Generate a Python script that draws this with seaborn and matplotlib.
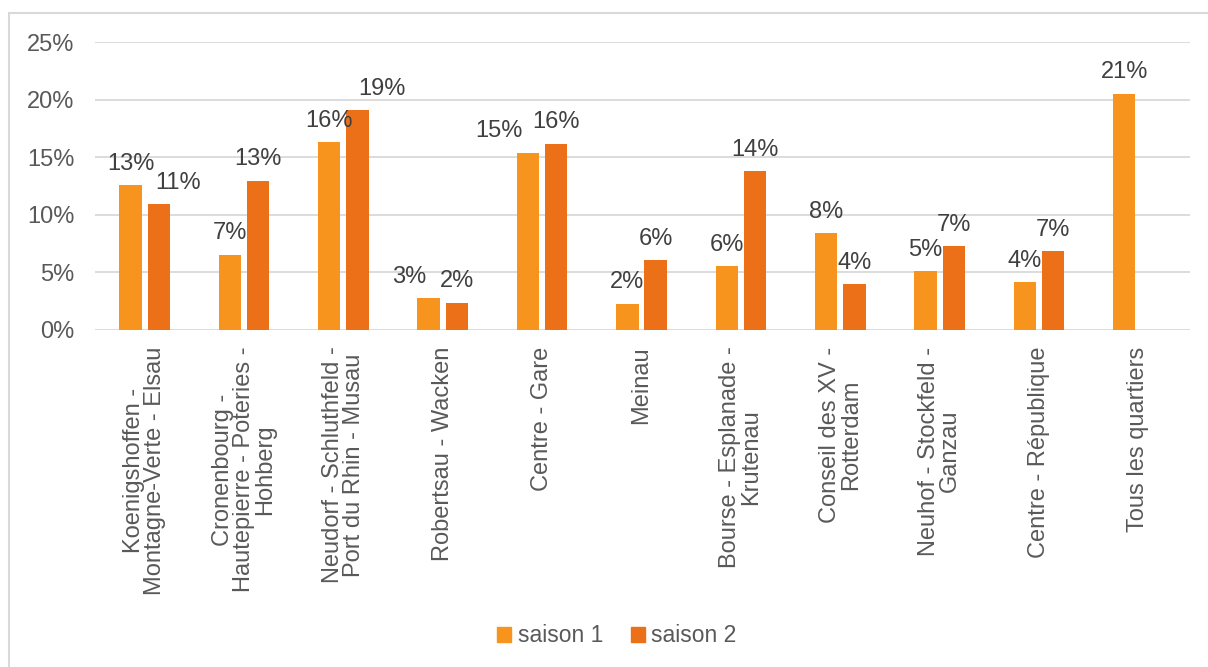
import matplotlib
matplotlib.use("Agg")
import matplotlib.pyplot as plt
from matplotlib.lines import Line2D
import numpy as np
import pandas as pd
import seaborn as sns

# ==================== DATA ====================
quartiers = [
    "Koenigshoffen -\nMontagne-Verte - Elsau",
    "Cronenbourg -\nHautepierre - Poteries -\nHohberg",
    "Neudorf - Schluthfeld -\nPort du Rhin - Musau",
    "Robertsau - Wacken",
    "Centre - Gare",
    "Meinau",
    "Bourse - Esplanade -\nKrutenau",
    "Conseil des XV -\nRotterdam",
    "Neuhof - Stockfeld -\nGanzau",
    "Centre - République",
    "Tous les quartiers",
]
saison_1 = [12.6, 6.55, 16.3, 2.75, 15.4, 2.3, 5.55, 8.4, 5.1, 4.15, 20.55]
saison_2 = [10.95, 12.97, 19.1, 2.37, 16.2, 6.05, 13.8, 4.0, 7.27, 6.86, np.nan]
saisons = ["saison 1", "saison 2"]
couleurs = ["#F7941D", "#EB7018"]
yticks = [0, 5, 10, 15, 20, 25]

# décalages horizontaux (px) des étiquettes déplacées pour éviter les chevauchements
decal_labels = {(0, 1): 19, (2, 1): 24, (3, 0): -19, (4, 0): -29}

# ==================== STYLE ====================
sns.set_theme(style="white")
plt.rcParams["font.family"] = ["Liberation Sans", "DejaVu Sans"]
TXT = "#595959"
GRID = "#D9D9D9"
FS = 17

df = pd.DataFrame({
    "quartier": quartiers * 2,
    "saison": [saisons[0]] * len(quartiers) + [saisons[1]] * len(quartiers),
    "valeur": saison_1 + saison_2,
})

fig = plt.figure(figsize=(12.08, 6.67), dpi=100)
ax = fig.add_axes([95 / 1208, 1 - 330 / 667, (1190 - 95) / 1208, (330 - 42.3) / 667])

sns.barplot(
    data=df, x="quartier", y="valeur", hue="saison", order=quartiers,
    hue_order=saisons, palette=couleurs, saturation=1, width=0.57, gap=0.21,
    errorbar=None, linewidth=0, ax=ax,
)

# étiquettes de données (arrondies à l'entier)
for j, cont in enumerate(ax.containers):
    for b in cont:
        h = b.get_height()
        if np.isnan(h):
            continue
        i = int(round(b.get_x() + b.get_width() / 2))
        dx = decal_labels.get((i, j), 0) * 0.72
        ax.annotate(
            f"{h:.0f}%", (b.get_x() + b.get_width() / 2, h),
            xytext=(dx, 7.5), textcoords="offset points",
            ha="center", va="bottom", fontsize=FS, color="#404040",
        )

ax.set_xlim(-0.5, len(quartiers) - 0.48)
ax.set_ylim(0, 25)
ax.set_yticks(yticks)
ax.set_yticklabels([f"{t}%" for t in yticks])
ax.yaxis.grid(True, color=GRID, linewidth=1.3)
ax.set_axisbelow(True)
for s in ax.spines.values():
    s.set_visible(False)
ax.tick_params(axis="y", length=0, pad=15, labelsize=FS, labelcolor=TXT)
ax.tick_params(axis="x", length=0, pad=12, labelsize=FS, labelcolor=TXT)
ax.set_xlabel("")
ax.set_ylabel("")
for lab in ax.get_xticklabels():
    lab.set_rotation(90)
    lab.set_ha("center")
    lab.set_va("top")
    lab.set_multialignment("center")
    lab.set_linespacing(0.95)

# légende en bas
ax.legend_.remove()
handles = [plt.Rectangle((0, 0), 1, 1, color=c) for c in couleurs]
fig.legend(
    handles, saisons, loc="center", bbox_to_anchor=(617 / 1208, 1 - 636 / 667),
    ncol=2, frameon=False, fontsize=16.5, labelcolor=TXT, handlelength=0.6,
    handleheight=0.6, handletextpad=0.3, columnspacing=1.2,
)

# cadre du graphique (bords gauche et haut visibles)
x0, y0 = 8.5 / 1208, 1 - 13 / 667
fig.add_artist(Line2D([x0, x0], [0, y0], transform=fig.transFigure, color=GRID, lw=1.5))
fig.add_artist(Line2D([x0, 1], [y0, y0], transform=fig.transFigure, color=GRID, lw=1.5))

fig.savefig("out.png", dpi=100, facecolor="white")
